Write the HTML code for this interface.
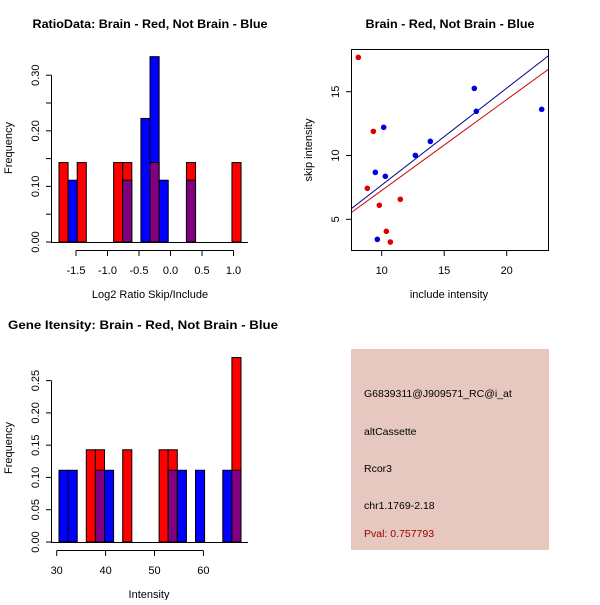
<!DOCTYPE html>
<html><head><meta charset="utf-8"><style>
body{margin:0;background:#fff}
svg text{font-family:"Liberation Sans",sans-serif}
</style></head><body>
<svg id="s" width="600" height="600" xmlns="http://www.w3.org/2000/svg">
<rect width="600" height="600" fill="#fff"/>
</svg>
<script>
// ---- Data: ratio histogram (20 bins) ----
const ratioBinStart = -1.77;
const ratioBinWidth = 0.1445;
const ratioRed  = [1/7,0,1/7,0,0,0,1/7,1/7,0,0,1/7,0,0,0,1/7,0,0,0,0,1/7];
const ratioBlue = [0,1/9,0,0,0,0,0,1/9,0,2/9,3/9,1/9,0,0,1/9,0,0,0,0,0];
const ratioXTicks = [-1.5,-1.0,-0.5,0.0,0.5,1.0];
const ratioXLabels = ["-1.5","-1.0","-0.5","0.0","0.5","1.0"];
const ratioYTicks = [0,0.05,0.10,0.15,0.20,0.25,0.30];
const ratioYLabels = ["0.00","","0.10","","0.20","","0.30"];
// ---- Data: gene intensity histogram ----
const geneBinStart = 30.47;
const geneBinWidth = 1.861;
const geneRed  = [0,0,0,1/7,1/7,0,0,1/7,0,0,0,1/7,1/7,0,0,0,0,0,0,2/7];
const geneBlue = [1/9,1/9,0,0,1/9,1/9,0,0,0,0,0,0,1/9,1/9,0,1/9,0,0,1/9,1/9];
const geneXTicks = [30,40,50,60];
const geneYTicks = [0,0.05,0.10,0.15,0.20,0.25];
const geneYLabels = ["0.00","0.05","0.10","0.15","0.20","0.25"];
// ---- Data: scatter ----
const redX  = [8.13,9.33,8.85,9.81,11.49,10.37,10.69];
const redY  = [17.69,11.89,7.43,6.10,6.57,4.06,3.22];
const blueX = [17.41,17.57,22.8,10.16,13.89,12.69,9.49,10.29,9.65];
const blueY = [15.26,13.46,13.62,12.21,11.11,10.01,8.68,8.37,3.43];
const blueFit = [0.08,0.760]; // intercept, slope
const redFit  = [0.14,0.712];
const scatXTicks = [10,15,20];
const scatYTicks = [5,10,15];

const NS="http://www.w3.org/2000/svg";
const svg=document.getElementById('s');
function el(tag,attrs,parent){const e=document.createElementNS(NS,tag);for(const k in attrs)e.setAttribute(k,attrs[k]);(parent||svg).appendChild(e);return e;}
function txt(x,y,s,opts,parent){const t=el('text',Object.assign({x:x,y:y,'font-size':11,'text-anchor':'middle',fill:'#000'},opts||{}),parent);t.textContent=s;return t;}

function hist(g,red,blue,start,w,sx,sy){
  for(let i=0;i<red.length;i++){
    const x0=sx(start+i*w), x1=sx(start+(i+1)*w);
    const r=red[i], b=blue[i];
    if(r===0&&b===0) continue;
    const hi=Math.max(r,b), lo=Math.min(r,b);
    const col=r>=b?'#ff0000':'#0000ff';
    const bar=el('rect',{x:x0,y:sy(hi),width:x1-x0,height:sy(0)-sy(hi),fill:col,stroke:'#000','stroke-width':1},g);
    
    
    if(lo>0){
      const p=el('rect',{x:x0,y:sy(lo),width:x1-x0,height:sy(0)-sy(lo),fill:'#800080',stroke:'#000','stroke-width':1},g);
      
      
    }
  }
}

// ===== Panel 1 =====
(function(){
  const g=el('g',{});
  
  
  const sx=v=>76+(v+1.5)*63;
  const sy=v=>242-v*556;
  txt(150,28,'RatioData: Brain - Red, Not Brain - Blue',{'font-weight':'bold','font-size':12,textLength:235,lengthAdjust:'spacingAndGlyphs'},g);
  hist(g,ratioRed,ratioBlue,ratioBinStart,ratioBinWidth,sx,sy);
  el('line',{x1:51,y1:242.5,x2:248,y2:242.5,stroke:'#000'},g);
  el('line',{x1:sx(-1.5),y1:250.5,x2:sx(1.0),y2:250.5,stroke:'#000'},g);
  ratioXTicks.forEach((v,i)=>{el('line',{x1:sx(v),y1:250.5,x2:sx(v),y2:256,stroke:'#000'},g);txt(sx(v),274,ratioXLabels[i],{},g);});
  el('line',{x1:51.5,y1:sy(0),x2:51.5,y2:sy(0.30),stroke:'#000'},g);
  ratioYTicks.forEach((v,i)=>{el('line',{x1:46,y1:sy(v),x2:51.5,y2:sy(v),stroke:'#000'},g);if(ratioYLabels[i])txt(0,0,ratioYLabels[i],{transform:`translate(39,${sy(v)}) rotate(-90)`},g);});
  txt(150,298,'Log2 Ratio Skip/Include',{},g);
  txt(0,0,'Frequency',{transform:'translate(12,148) rotate(-90)'},g);
})();

// ===== Panel 2 =====
(function(){
  const g=el('g',{});
  
  
  const sx=v=>381.7+(v-10)*12.5;
  const sy=v=>219.3-(v-5)*12.76;
  txt(450,28,'Brain - Red, Not Brain - Blue',{'font-weight':'bold','font-size':12,textLength:169,lengthAdjust:'spacingAndGlyphs'},g);
  el('rect',{x:351.5,y:49.5,width:197,height:201,fill:'none',stroke:'#000'},g);
  scatXTicks.forEach(v=>{el('line',{x1:sx(v),y1:250.5,x2:sx(v),y2:256,stroke:'#000'},g);txt(sx(v),274,String(v),{},g);});
  scatYTicks.forEach(v=>{el('line',{x1:346,y1:sy(v),x2:351.5,y2:sy(v),stroke:'#000'},g);txt(0,0,String(v),{transform:`translate(339,${sy(v)}) rotate(-90)`},g);});
  const xa=7.6,xb=23.33;
  el('line',{x1:sx(xa),y1:sy(blueFit[0]+blueFit[1]*xa),x2:sx(xb),y2:sy(blueFit[0]+blueFit[1]*xb),stroke:'#00008b'},g);
  el('line',{x1:sx(xa),y1:sy(redFit[0]+redFit[1]*xa),x2:sx(xb),y2:sy(redFit[0]+redFit[1]*xb),stroke:'#cc0000'},g);
  redX.forEach((x,i)=>{const c=el('circle',{cx:sx(x),cy:sy(redY[i]),r:2.8,fill:'#e00000'},g);});
  blueX.forEach((x,i)=>{const c=el('circle',{cx:sx(x),cy:sy(blueY[i]),r:2.8,fill:'#0000dd'},g);});
  txt(449,298,'include intensity',{},g);
  txt(0,0,'skip intensity',{transform:'translate(312,150) rotate(-90)'},g);
})();

// ===== Panel 3 =====
(function(){
  const g=el('g',{});
  
  
  const sx=v=>56.7+(v-30)*4.89;
  const sy=v=>542-v*645.6;
  txt(143,329,'Gene Itensity: Brain - Red, Not Brain - Blue',{'font-weight':'bold','font-size':12,textLength:270,lengthAdjust:'spacingAndGlyphs'},g);
  hist(g,geneRed,geneBlue,geneBinStart,geneBinWidth,sx,sy);
  el('line',{x1:51,y1:542.5,x2:248,y2:542.5,stroke:'#000'},g);
  el('line',{x1:sx(30),y1:550.5,x2:sx(60),y2:550.5,stroke:'#000'},g);
  geneXTicks.forEach(v=>{el('line',{x1:sx(v),y1:550.5,x2:sx(v),y2:556,stroke:'#000'},g);txt(sx(v),574,String(v),{},g);});
  el('line',{x1:51.5,y1:sy(0),x2:51.5,y2:sy(0.25),stroke:'#000'},g);
  geneYTicks.forEach((v,i)=>{el('line',{x1:46,y1:sy(v),x2:51.5,y2:sy(v),stroke:'#000'},g);txt(0,0,geneYLabels[i],{transform:`translate(39,${sy(v)}) rotate(-90)`},g);});
  txt(149,598,'Intensity',{},g);
  txt(0,0,'Frequency',{transform:'translate(12,448) rotate(-90)'},g);
})();

// ===== Panel 4 info box =====
(function(){
  const g=el('g',{});
  
  
  el('rect',{x:351,y:349,width:198,height:201,fill:'#e6c8c0'},g);
  const lines=[['G6839311@J909571_RC@i_at',397,'#000'],['altCassette',435,'#000'],['Rcor3',472,'#000'],['chr1.1769-2.18',509,'#000'],['Pval: 0.757793',537,'#a00000']];
  lines.forEach(l=>{const t=txt(364,l[1],l[0],{'text-anchor':'start','font-size':10.5,fill:l[2]},g);});
})();
</script>
</body></html>
